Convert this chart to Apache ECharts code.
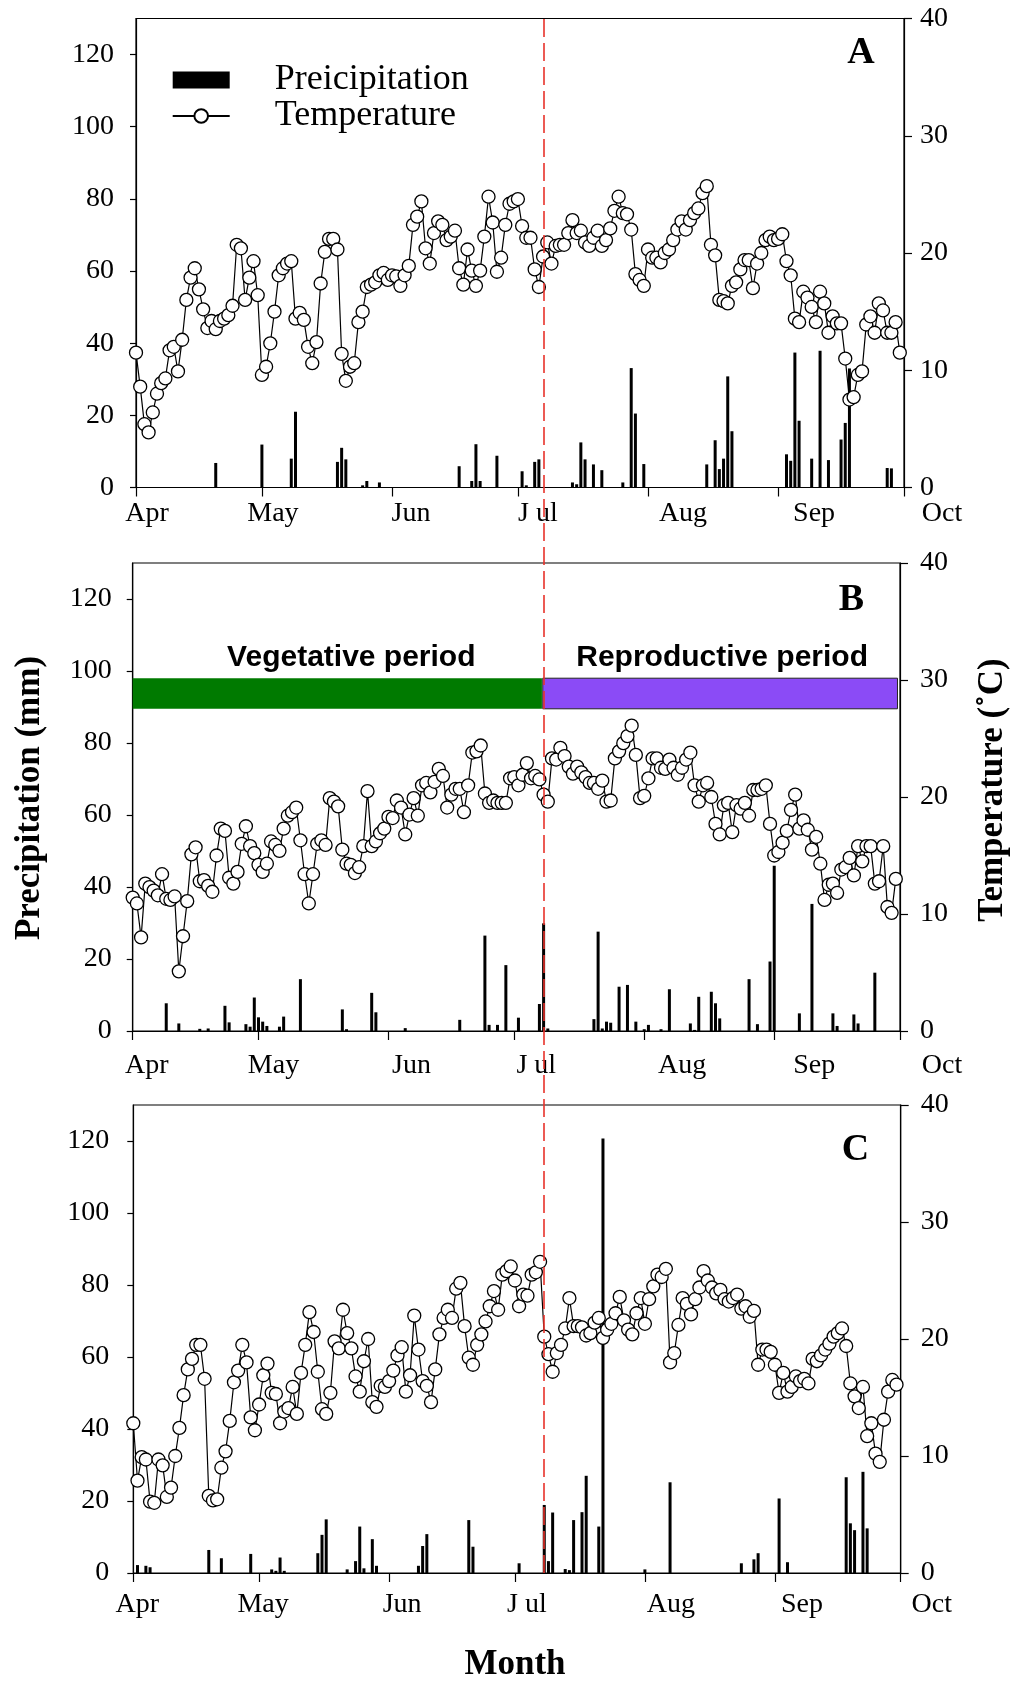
<!DOCTYPE html>
<html><head><meta charset="utf-8">
<script src="https://cdn.jsdelivr.net/npm/echarts@6/dist/echarts.min.js"></script>
<style>html,body{margin:0;padding:0;background:#fff}#c{width:1029px;height:1684px}</style>
</head><body><div id="c"></div>
<script>
// x values are days since 1 April
const monthDays = [0, 30, 61, 91, 122, 153, 183];
const monthLabels = ['Apr', 'May', 'Jun', 'J ul', 'Aug', 'Sep', 'Oct'];
const precipTicks = [0, 20, 40, 60, 80, 100, 120];
const tempTicks = [0, 10, 20, 30, 40];

const tempA = [
 11.5, 8.6, 5.4, 4.7, 6.4, 8.0, 8.9, 9.3, 11.7, 12.0,
 9.9, 12.6, 16.0, 17.9, 18.7, 16.9, 15.2, 13.6, 14.2, 13.5,
 14.2, 14.4, 14.7, 15.5, 20.7, 20.4, 16.0, 17.9, 19.3, 16.4,
 9.6, 10.3, 12.3, 15.0, 18.1, 18.7, 19.1, 19.3, 14.4, 14.9,
 14.3, 12.0, 10.6, 12.4, 17.4, 20.1, 21.2, 21.2, 20.3, 11.4,
 9.1, 10.3, 10.6, 14.1, 15.0, 17.1, 17.3, 17.5, 18.1, 18.3,
 17.7, 18.1, 18.0, 17.2, 18.1, 18.9, 22.4, 23.1, 24.4, 20.4,
 19.1, 21.7, 22.7, 22.4, 21.1, 21.4, 21.9, 18.7, 17.3, 20.3,
 18.5, 17.2, 18.5, 21.4, 24.8, 22.6, 18.4, 19.6, 22.4, 24.2,
 24.4, 24.6, 22.3, 21.3, 21.3, 18.6, 17.1, 19.7, 20.9, 19.1,
 20.6, 20.7, 20.7, 21.7, 22.8, 21.7, 21.9, 20.9, 20.6, 21.3,
 21.9, 20.6, 21.1, 22.1, 23.6, 24.8, 23.4, 23.3, 22.0, 18.2,
 17.7, 17.2, 20.3, 19.6, 19.6, 19.2, 20.0, 20.3, 21.1, 22.0,
 22.7, 22.0, 22.8, 23.4, 23.8, 25.1, 25.7, 20.7, 19.8, 16.0,
 15.9, 15.7, 17.2, 17.5, 18.6, 19.4, 19.4, 17.0, 19.1, 20.0,
 21.1, 21.4, 21.1, 21.2, 21.6, 19.3, 18.1, 14.4, 14.1, 16.7,
 16.2, 15.4, 14.1, 16.7, 15.7, 13.2, 14.6, 14.0, 14.0, 11.0,
 7.5, 7.7, 9.6, 9.9, 13.9, 14.6, 13.2, 15.7, 15.1, 13.2,
 13.2, 14.1, 11.5
];
const tempB = [
 11.4, 10.9, 8.0, 12.6, 12.3, 12.0, 11.6, 13.4, 11.3, 11.2,
 11.5, 5.1, 8.1, 11.1, 15.1, 15.7, 12.8, 12.9, 12.4, 11.9,
 15.0, 17.3, 17.1, 13.1, 12.6, 13.6, 16.0, 17.5, 15.8, 15.2,
 14.2, 13.6, 14.3, 16.2, 15.9, 15.4, 17.3, 18.4, 18.7, 19.1,
 16.3, 13.4, 10.9, 13.4, 16.0, 16.3, 15.9, 19.9, 19.6, 19.2,
 15.5, 14.3, 14.2, 13.5, 14.0, 15.8, 20.5, 15.8, 16.2, 16.9,
 17.3, 18.3, 18.2, 19.7, 19.1, 16.8, 18.5, 19.9, 18.4, 21.0,
 21.2, 20.4, 21.3, 22.4, 21.8, 19.1, 20.2, 20.7, 20.7, 18.7,
 21.0, 23.8, 23.9, 24.4, 20.3, 19.5, 19.7, 19.5, 19.5, 19.5,
 21.6, 21.7, 21.0, 21.9, 22.9, 21.6, 21.8, 21.5, 20.2, 19.6,
 23.3, 23.2, 24.2, 23.5, 22.6, 22.0, 22.6, 22.1, 21.7, 21.2,
 21.2, 20.7, 21.4, 19.6, 19.7, 23.3, 23.9, 24.6, 25.2, 26.1,
 23.6, 19.9, 20.1, 21.6, 23.3, 23.3, 22.5, 22.4, 23.2, 22.5,
 21.9, 22.5, 23.2, 23.8, 21.0, 19.6, 21.0, 21.2, 20.0, 17.7,
 16.8, 19.3, 19.5, 17.0, 19.3, 19.0, 19.5, 18.4, 20.6, 20.6,
 20.7, 21.0, 17.7, 15.0, 15.3, 16.1, 17.1, 18.9, 20.2, 17.3,
 18.0, 17.2, 15.5, 16.6, 14.3, 11.2, 12.5, 12.6, 11.8, 13.8,
 14.0, 14.8, 13.3, 15.8, 14.5, 15.8, 15.8, 12.6, 12.8, 15.8,
 10.6, 10.1, 13.0
];
const tempC = [
 12.8, 7.9, 9.9, 9.7, 6.1, 6.0, 9.7, 9.2, 6.5, 7.3,
 10.0, 12.4, 15.2, 17.4, 18.3, 19.5, 19.5, 16.6, 6.6, 6.2,
 6.3, 9.0, 10.4, 13.0, 16.3, 17.3, 19.5, 18.0, 13.3, 12.2,
 14.4, 16.9, 17.9, 15.4, 15.3, 12.8, 13.8, 14.1, 15.9, 13.6,
 17.1, 19.5, 22.3, 20.6, 17.2, 14.0, 13.6, 15.4, 19.8, 19.2,
 22.5, 20.5, 19.2, 16.8, 15.5, 18.1, 20.0, 14.6, 14.2, 16.0,
 15.9, 16.4, 17.3, 18.6, 19.3, 15.5, 16.9, 22.0, 19.1, 16.4,
 16.0, 14.6, 17.4, 20.4, 21.8, 22.5, 21.8, 24.3, 24.8, 21.1,
 18.4, 17.8, 19.5, 20.4, 21.5, 22.8, 24.1, 22.5, 25.5, 25.8,
 26.2, 25.0, 22.8, 23.8, 23.7, 25.5, 25.7, 26.6, 20.2, 18.7,
 17.2, 18.8, 19.5, 20.9, 23.5, 21.1, 21.1, 21.0, 20.3, 20.5,
 21.4, 21.8, 20.1, 20.8, 21.3, 22.2, 23.6, 21.6, 20.8, 20.4,
 22.2, 23.5, 21.3, 23.4, 24.5, 25.5, 25.3, 26.0, 18.0, 18.8,
 21.2, 23.5, 23.0, 22.1, 23.4, 24.4, 25.8, 25.0, 24.4, 23.9,
 24.2, 23.4, 23.2, 23.5, 23.8, 22.6, 22.8, 21.9, 22.4, 17.8,
 19.1, 19.1, 18.9, 17.8, 15.4, 17.1, 15.5, 15.9, 16.8, 16.4,
 16.6, 16.2, 18.3, 18.1, 18.6, 19.1, 19.6, 20.2, 20.5, 20.9,
 19.4, 16.2, 15.1, 14.1, 15.9, 11.7, 12.8, 10.2, 9.5, 13.1,
 15.5, 16.5, 16.1
];

// [day, precipitation mm]
const rainA = [
 [19,6.8],[30,11.9],[37,8.0],[38,21.0],[48,7.1],[49,11.0],[50,7.8],[54,0.6],[55,1.8],[58,1.4],
 [77,5.9],[80,1.8],[81,12.0],[82,1.8],[86,8.8],[92,4.5],[93,0.6],[95,7.1],[96,7.8],
 [104,1.4],[105,0.9],[106,12.5],[107,7.8],[109,6.4],[111,4.8],[116,1.4],[118,33.1],[119,20.5],[121,6.5],
 [136,6.4],[138,13.1],[139,5.1],[140,8.0],[141,30.8],[142,15.6],[155,9.2],[156,7.4],[157,37.4],[158,18.5],
 [161,8.0],[163,37.9],[165,7.6],[168,13.3],[169,17.9],[170,33.0],[179,5.4],[180,5.3]
];
const rainB = [
 [8,7.7],[11,2.1],[16,0.6],[18,0.7],[22,7.0],[23,2.4],[27,1.9],[28,1.2],[29,9.3],[30,3.8],[31,2.6],[32,1.4],
 [35,1.2],[36,4.0],[40,14.4],[50,6.0],[51,0.5],[57,10.6],[58,5.2],[65,0.8],
 [78,3.1],[84,26.5],[85,1.7],[87,1.7],[89,18.3],[92,3.7],[97,7.5],[98,29.9],[99,0.7],
 [110,3.3],[111,27.6],[112,0.7],[113,2.6],[114,2.3],[116,12.3],[118,12.8],[120,2.6],[122,0.5],[123,1.7],[126,0.5],[128,11.6],
 [133,2.1],[134,0.3],[135,9.5],[138,10.9],[139,7.7],[140,3.5],[147,14.4],[149,1.9],[152,19.3],[153,45.9],
 [159,4.9],[162,35.3],[167,4.9],[168,1.4],[172,4.6],[173,2.1],[177,16.2]
];
const rainC = [
 [1,2.2],[3,2.0],[4,1.6],[18,6.4],[21,4.1],[28,5.3],[33,1.0],[34,0.6],[35,4.3],[36,0.6],
 [44,5.5],[45,10.6],[46,14.9],[51,1.0],[53,3.3],[54,12.9],[55,1.3],[57,9.4],[58,2.0],
 [68,2.0],[69,7.5],[70,10.8],[80,14.7],[81,7.3],[92,2.7],[98,18.9],[99,3.3],[100,16.8],
 [103,1.1],[104,0.8],[105,14.7],[107,16.9],[108,27.0],[111,12.9],[112,120.7],[122,1.0],[128,25.2],
 [145,2.7],[148,3.8],[149,5.5],[154,20.7],[156,3.0],[170,26.6],[171,13.8],[172,11.9],[174,28.1],[175,12.4]
];

const periodNames = ['Vegetative period', 'Reproductive period'];
const periodStart = [0, 97.8];
const periodEnd = [97.6, 182.4];
const periodLow = 89.5, periodHigh = 98;
const stageDay = 98;
const panelLetters = ['A', 'B', 'C'];

const chart = echarts.init(document.getElementById('c'), null, {renderer: 'canvas'});

const gridPos = [
  {left: 136, top: 18.5, width: 768, height: 469},
  {left: 132.7, top: 563, width: 767.3, height: 468},
  {left: 133.3, top: 1105, width: 767.4, height: 468}
];
const xMargin = [12, 21, 18];
const yLeftMargin = [22, 21, 24];
const yRightMargin = [16, 20, 20];
// horizontal shift (px) of each month label relative to its tick, per panel
const labelShift = [
  [11, 11, 19, 20, 35, 36, 38],
  [14, 15, 23, 22, 38, 40, 42],
  [4, 4, 13, 12, 26, 27, 31]
];
const temps = [tempA, tempB, tempC];
const rains = [rainA, rainB, rainC];

const serif = 'Liberation Serif';
const grids = [], xAxes = [], yAxes = [], series = [];
gridPos.forEach((g, i) => {
  grids.push(Object.assign({show: true, borderColor: '#000', borderWidth: 1.2, backgroundColor: 'transparent'}, g));
  const rich = {};
  labelShift[i].forEach((s, k) => {
    rich['m' + k] = {fontFamily: serif, fontSize: 28, color: '#000', padding: [0, 0, 0, 2 * s]};
  });
  xAxes.push({
    gridIndex: i, type: 'value', min: 0, max: 183,
    splitLine: {show: false},
    axisLine: {show: true, onZero: false, lineStyle: {color: '#000', width: 1.2}},
    axisTick: {show: true, customValues: monthDays, length: 9, lineStyle: {color: '#000', width: 1.2}},
    axisLabel: {customValues: monthDays, formatter: v => {
        const k = monthDays.indexOf(v);
        return '{m' + k + '|' + monthLabels[k] + '}';
      },
      fontFamily: serif, fontSize: 28, color: '#000', margin: xMargin[i], rich: rich}
  });
  yAxes.push({
    gridIndex: i, type: 'value', min: 0, max: 130, position: 'left',
    splitLine: {show: false},
    axisLine: {show: true, lineStyle: {color: '#000', width: 1.2}},
    axisTick: {show: true, customValues: precipTicks, length: 6, lineStyle: {color: '#000', width: 1.2}},
    axisLabel: {customValues: precipTicks, fontFamily: serif, fontSize: 28, color: '#000', margin: yLeftMargin[i]}
  });
  yAxes.push({
    gridIndex: i, type: 'value', min: 0, max: 40, position: 'right',
    splitLine: {show: false},
    axisLine: {show: true, lineStyle: {color: '#000', width: 1.2}},
    axisTick: {show: true, customValues: tempTicks, length: 8, lineStyle: {color: '#000', width: 1.2}},
    axisLabel: {customValues: tempTicks, fontFamily: serif, fontSize: 28, color: '#000', margin: yRightMargin[i]}
  });
  const bar = {
    name: 'Preicipitation', type: 'bar', xAxisIndex: i, yAxisIndex: 2 * i,
    data: rains[i], barWidth: 3, itemStyle: {color: '#000'}, z: 2, silent: true
  };
  if (i === 1) {
    const colors = ['#007a00', '#8b4bf6'];
    const offs = [[14, 0], [2, 0]];
    bar.markArea = {
      silent: true,
      data: periodNames.map((nm, k) => [
        {name: nm, xAxis: periodStart[k], yAxis: periodLow,
         itemStyle: {color: colors[k], borderColor: k === 1 ? '#222' : colors[k], borderWidth: k === 1 ? 1 : 0},
         label: {show: true, position: 'top', distance: 5, offset: offs[k], formatter: nm,
           fontFamily: 'Liberation Sans', fontWeight: 'bold', fontSize: 30, color: '#000'}},
        {xAxis: periodEnd[k], yAxis: periodHigh}
      ])
    };
  }
  series.push(bar);
  series.push({
    name: 'Temperature', type: 'line', xAxisIndex: i, yAxisIndex: 2 * i + 1,
    data: temps[i].map((t, d) => [d, t]),
    symbol: 'circle', symbolSize: 13, showSymbol: true, showAllSymbol: true,
    lineStyle: {color: '#000', width: 1.2},
    itemStyle: {color: '#fff', borderColor: '#000', borderWidth: 1.3},
    z: 3, silent: true
  });
});

// overlay grid for the stage divider line across all panels
grids.push({left: 133, top: 18, width: 767, height: 1555, show: false});
xAxes.push({gridIndex: 3, type: 'value', min: 0, max: 183, show: false});
yAxes.push({gridIndex: 3, type: 'value', min: 0, max: 1, show: false});
series.push({
  type: 'line', xAxisIndex: 3, yAxisIndex: 6, data: [], z: 5, silent: true,
  markLine: {silent: true, symbol: ['none', 'none'], label: {show: false},
    lineStyle: {color: '#e8322b', width: 1.6, type: [18, 6]},
    data: [{xAxis: stageDay}]}
});

const letterPos = [[861, 53.5], [851.3, 600], [855.5, 1150]];
const graphics = [
  {type: 'text', x: 30, y: 798, rotation: Math.PI / 2,
   style: {text: 'Precipitation (mm)', font: 'bold 35px "Liberation Serif"', fill: '#000', align: 'center', verticalAlign: 'middle'}},
  {type: 'text', x: 993, y: 790, rotation: Math.PI / 2,
   style: {text: 'Temperature (˚C)', font: 'bold 35px "Liberation Serif"', fill: '#000', align: 'center', verticalAlign: 'middle'}},
  {type: 'text', x: 515, y: 1665,
   style: {text: 'Month', font: 'bold 35px "Liberation Serif"', fill: '#000', align: 'center', verticalAlign: 'middle'}}
];
panelLetters.forEach((L, i) => graphics.push({type: 'text', x: letterPos[i][0], y: letterPos[i][1],
  style: {text: L, font: 'bold 38px "Liberation Serif"', fill: '#000', align: 'center', verticalAlign: 'middle'}}));

chart.setOption({
  animation: false,
  backgroundColor: '#fff',
  grid: grids, xAxis: xAxes, yAxis: yAxes, series: series,
  legend: {
    show: true, orient: 'vertical', left: 171.7, top: 62, padding: 0, itemGap: 0,
    itemWidth: 57, itemHeight: 17, selectedMode: false,
    data: [{name: 'Preicipitation', icon: 'rect'}, {name: 'Temperature'}],
    textStyle: {fontFamily: serif, fontSize: 36, color: '#000', lineHeight: 31, padding: [0, 0, 0, 40]}
  },
  graphic: graphics
});
</script>
</body></html>
